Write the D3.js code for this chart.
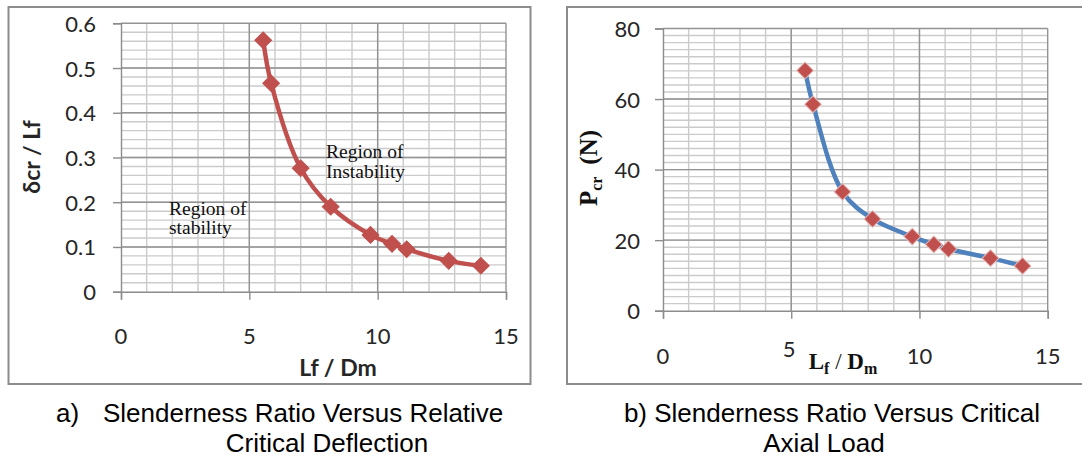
<!DOCTYPE html>
<html>
<head>
<meta charset="utf-8">
<script src="https://cdn.jsdelivr.net/npm/d3@7"></script>
<style>
  body { margin: 0; background: #fff; }
  text { fill: #262626; }
</style>
</head>
<body>
<svg id="fig" width="1082" height="460"></svg>
<script>
// DATA
var slenderness = [5.54, 5.85, 7.0, 8.17, 9.72, 10.56, 11.13, 12.77, 14.02];
var relDeflection = [0.562, 0.466, 0.276, 0.190, 0.127, 0.107, 0.095, 0.069, 0.058];
var critLoad = [68.1, 58.5, 33.7, 26.0, 21.0, 18.8, 17.5, 14.9, 12.7];

var xTicks = [0, 5, 10, 15];
var yTicksA = [0, 0.1, 0.2, 0.3, 0.4, 0.5, 0.6];
var yTicksB = [0, 20, 40, 60, 80];

var svg = d3.select("#fig");

var red = "#C0504D";
var blue = "#4F81BD";
var tickFont = "Lato, 'Open Sans', sans-serif";

// draws one framed Excel-like panel
function drawPanel(cfg) {
  // outer frame
  svg.append("rect")
    .attr("x", cfg.frame[0]).attr("y", cfg.frame[1])
    .attr("width", cfg.frame[2]).attr("height", cfg.frame[3])
    .attr("fill", "none").attr("stroke", "#8c8c8c").attr("stroke-width", 2);

  var x = d3.scaleLinear().domain([0, 15]).range([cfg.x0, cfg.x1]);
  var y = d3.scaleLinear().domain([0, cfg.yMax]).range([cfg.y0, cfg.y1]);

  var g = svg.append("g");

  // minor grid
  g.selectAll(".vminor")
    .data(d3.range(1, 15))
    .enter().append("line")
    .attr("x1", d => x(d)).attr("x2", d => x(d))
    .attr("y1", y(cfg.yMax)).attr("y2", y(0))
    .attr("stroke", "#cbcbcb").attr("stroke-width", 1.4);

  g.selectAll(".hminor")
    .data(d3.range(1, Math.round(cfg.yMax / cfg.yMinor)).map(i => i * cfg.yMinor))
    .enter().append("line")
    .attr("x1", x(0)).attr("x2", x(15))
    .attr("y1", d => y(d)).attr("y2", d => y(d))
    .attr("stroke", "#cbcbcb").attr("stroke-width", 1.4);

  // major grid
  g.selectAll(".vmajor")
    .data(xTicks.slice(1))
    .enter().append("line")
    .attr("x1", d => x(d)).attr("x2", d => x(d))
    .attr("y1", y(cfg.yMax)).attr("y2", y(0))
    .attr("stroke", "#939393").attr("stroke-width", 1.4);

  g.selectAll(".hmajor")
    .data(cfg.yTicks.slice(1))
    .enter().append("line")
    .attr("x1", x(0)).attr("x2", x(15))
    .attr("y1", d => y(d)).attr("y2", d => y(d))
    .attr("stroke", "#939393").attr("stroke-width", 1.4);

  // axes
  var xAxis = d3.axisBottom(x).tickValues(xTicks).tickSize(8).tickFormat("");
  var yAxis = d3.axisLeft(y).tickValues(cfg.yTicks).tickSize(8).tickFormat("");

  g.append("g")
    .attr("transform", `translate(0, ${y(0)})`)
    .call(xAxis)
    .call(a => a.select(".domain").attr("stroke", "#8c8c8c").attr("stroke-width", 1.4))
    .call(a => a.selectAll(".tick line").attr("stroke", "#8c8c8c").attr("stroke-width", 1.4));

  g.append("g")
    .attr("transform", `translate(${x(0)}, 0)`)
    .call(yAxis)
    .call(a => a.select(".domain").attr("stroke", "#8c8c8c").attr("stroke-width", 1.4))
    .call(a => a.selectAll(".tick line").attr("stroke", "#8c8c8c").attr("stroke-width", 1.4));

  // tick labels
  g.selectAll(".xlab")
    .data(xTicks)
    .enter().append("text")
    .attr("x", d => x(d) + (cfg.xLabelShift[d] ? cfg.xLabelShift[d][0] : 0))
    .attr("y", d => cfg.xLabelY + (cfg.xLabelShift[d] ? cfg.xLabelShift[d][1] : 0))
    .attr("text-anchor", "middle")
    .attr("dominant-baseline", "central")
    .style("font-family", tickFont)
    .style("font-size", "22px")
    .text(d => d);

  g.selectAll(".ylab")
    .data(cfg.yTicks)
    .enter().append("text")
    .attr("x", cfg.yLabelX)
    .attr("y", d => y(d))
    .attr("text-anchor", "end")
    .attr("dominant-baseline", "central")
    .style("font-family", tickFont)
    .style("font-size", "22px")
    .text(d => d);

  // smoothed series line
  var pts = slenderness.map((s, i) => [s, cfg.values[i]]);
  var line = d3.line()
    .x(d => x(d[0]))
    .y(d => y(d[1]))
    .curve(d3.curveCatmullRom.alpha(0.5));

  g.append("path")
    .datum(pts)
    .attr("d", line)
    .attr("fill", "none")
    .attr("stroke", cfg.lineColor)
    .attr("stroke-width", 4.5)
    .attr("stroke-linejoin", "round");

  // diamond markers
  var diamond = d3.symbol().type(d3.symbolSquare).size(140);
  g.selectAll(".marker")
    .data(pts)
    .enter().append("path")
    .attr("d", diamond)
    .attr("transform", d => `translate(${x(d[0])}, ${y(d[1])}) rotate(45)`)
    .attr("fill", red)
    .attr("stroke", cfg.markerEdge)
    .attr("stroke-width", 1);

  return { x: x, y: y };
}

// panel a
drawPanel({
  frame: [8.5, 7, 522, 377],
  x0: 121, x1: 506, y0: 291.7, y1: 23.3,
  yMax: 0.6, yMinor: 0.02, yTicks: yTicksA,
  values: relDeflection,
  lineColor: red, markerEdge: red,
  xLabelY: 335, xLabelShift: {}, yLabelX: 96
});

// panel b
drawPanel({
  frame: [567, 7, 530, 377],
  x0: 663, x1: 1047.7, y0: 310.7, y1: 28.5,
  yMax: 80, yMinor: 2, yTicks: yTicksB,
  values: critLoad,
  lineColor: blue, markerEdge: "#e6b9b8",
  xLabelY: 355, xLabelShift: { 5: [-2, -7] }, yLabelX: 640
});

// axis titles, panel a
svg.append("text")
  .attr("transform", "translate(31, 157) rotate(-90)")
  .attr("text-anchor", "middle")
  .attr("dominant-baseline", "central")
  .style("font-family", "Lato, sans-serif")
  .style("font-weight", "bold")
  .style("font-size", "23px")
  .text("δcr / Lf");

svg.append("text")
  .attr("x", 338).attr("y", 367)
  .attr("text-anchor", "middle")
  .attr("dominant-baseline", "central")
  .style("font-family", "Lato, sans-serif")
  .style("font-weight", "bold")
  .style("font-size", "23px")
  .text("Lf / Dm");

// annotations, panel a
var serif = "'Liberation Serif', 'Times New Roman', serif";
[["Region of", 169, 215], ["stability", 169, 234],
 ["Region of", 326, 158], ["Instability", 326, 178]].forEach(function(t) {
  svg.append("text")
    .attr("x", t[1]).attr("y", t[2])
    .style("font-family", serif)
    .style("font-size", "19.5px")
    .style("fill", "#111")
    .text(t[0]);
});

// axis titles, panel b
var yTitleB = svg.append("text")
  .attr("transform", "translate(597, 168) rotate(-90)")
  .attr("text-anchor", "middle")
  .style("font-family", serif)
  .style("font-weight", "bold")
  .style("font-size", "25px")
  .style("fill", "#111");
yTitleB.append("tspan").text("P");
yTitleB.append("tspan").attr("dy", 5).style("font-size", "16px").text("cr");
yTitleB.append("tspan").attr("dy", -5).attr("dx", 12).text("(N)");

var xTitleB = svg.append("text")
  .attr("x", 843).attr("y", 369)
  .attr("text-anchor", "middle")
  .style("font-family", serif)
  .style("font-weight", "bold")
  .style("font-size", "23px")
  .style("fill", "#111");
xTitleB.append("tspan").text("L");
xTitleB.append("tspan").attr("dy", 5).style("font-size", "16px").text("f");
xTitleB.append("tspan").attr("dy", -5).style("font-weight", "normal").text(" / ");
xTitleB.append("tspan").text("D");
xTitleB.append("tspan").attr("dy", 5).style("font-size", "16px").text("m");

// captions
var sans = "'Liberation Sans', Arial, sans-serif";
function caption(str, x, y, anchor) {
  svg.append("text")
    .attr("x", x).attr("y", y)
    .attr("text-anchor", anchor)
    .style("font-family", sans)
    .style("font-size", "26px")
    .style("fill", "#000")
    .text(str);
}
caption("a)", 56, 422, "start");
caption("Slenderness Ratio Versus Relative", 103, 422, "start");
caption("Critical Deflection", 327, 452, "middle");
caption("b) Slenderness Ratio Versus Critical", 832, 422, "middle");
caption("Axial Load", 824, 452, "middle");
</script>
</body>
</html>
